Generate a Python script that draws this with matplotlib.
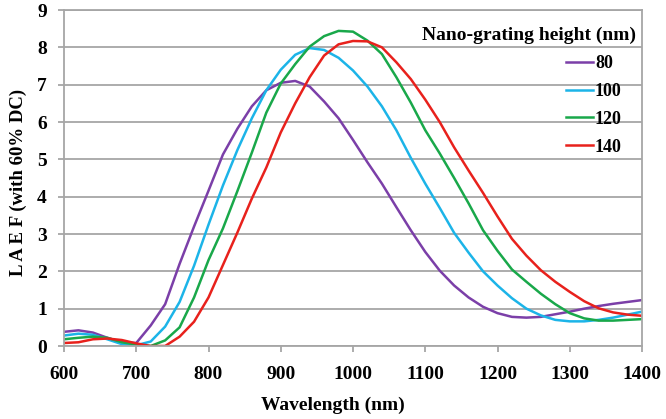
import matplotlib
matplotlib.use("Agg")
import matplotlib.pyplot as plt

# 读图估计的数据 (波长 nm, LAEF)
wavelength = list(range(600, 1401, 20))

laef_80 = [0.38, 0.42, 0.36, 0.22, 0.10, 0.08, 0.55, 1.12, 2.20, 3.20,
           4.16, 5.13, 5.82, 6.42, 6.85, 7.05, 7.10, 6.95, 6.55, 6.10,
           5.52, 4.92, 4.35, 3.72, 3.10, 2.52, 2.02, 1.62, 1.30, 1.05,
           0.88, 0.78, 0.76, 0.78, 0.85, 0.92, 1.00, 1.07, 1.13, 1.18, 1.23]
laef_100 = [0.28, 0.33, 0.30, 0.18, 0.05, 0.02, 0.12, 0.52, 1.18, 2.15,
            3.25, 4.30, 5.25, 6.10, 6.85, 7.40, 7.80, 7.98, 7.93, 7.72,
            7.38, 6.95, 6.42, 5.78, 5.04, 4.35, 3.70, 3.03, 2.50, 2.00,
            1.62, 1.28, 1.00, 0.82, 0.70, 0.66, 0.66, 0.70, 0.76, 0.84, 0.92]
laef_120 = [0.18, 0.22, 0.25, 0.22, 0.10, 0.04, 0.00, 0.15, 0.50, 1.30,
            2.30, 3.15, 4.15, 5.18, 6.25, 7.03, 7.55, 8.02, 8.30, 8.44,
            8.42, 8.18, 7.82, 7.20, 6.52, 5.78, 5.16, 4.50, 3.82, 3.10,
            2.55, 2.05, 1.72, 1.40, 1.12, 0.88, 0.74, 0.68, 0.68, 0.70, 0.72]
laef_140 = [0.08, 0.10, 0.18, 0.20, 0.16, 0.07, 0.00, 0.00, 0.25, 0.65,
            1.30, 2.17, 3.04, 3.95, 4.78, 5.72, 6.50, 7.20, 7.78, 8.08,
            8.17, 8.16, 8.00, 7.60, 7.15, 6.60, 6.00, 5.32, 4.70, 4.10,
            3.47, 2.87, 2.42, 2.03, 1.72, 1.45, 1.20, 1.01, 0.90, 0.84, 0.81]

series = [("80", laef_80, "#7b3fa8"),
          ("100", laef_100, "#1cb4e8"),
          ("120", laef_120, "#19a84a"),
          ("140", laef_140, "#e8211c")]

plt.rcParams["font.family"] = ["Liberation Serif", "DejaVu Serif"]
plt.rcParams["font.weight"] = "bold"

fig = plt.figure(figsize=(6.66, 4.19), dpi=100)
ax = fig.add_axes([64 / 666, 1 - 346 / 419, 578 / 666, 336 / 419])

for name, vals, col in series:
    ax.plot(wavelength, vals, color=col, lw=1.8, label=name)

ax.set_xlim(600, 1400)
ax.set_ylim(0, 9)
ax.set_xticks(range(600, 1401, 100))
ax.set_yticks(range(0, 10))
ax.yaxis.grid(True, color="#a6a6a6", lw=1.3)
ax.set_axisbelow(True)
for s in ax.spines.values():
    s.set_color("#a6a6a6")
    s.set_linewidth(1.3)
ax.tick_params(axis="both", colors="#a6a6a6", length=4.3, width=1.3,
               labelsize=14, labelcolor="black")
ax.tick_params(axis="x", pad=10)
ax.tick_params(axis="y", pad=8)
for lab in ax.get_xticklabels() + ax.get_yticklabels():
    lab.set_fontweight("bold")

fig.text(333 / 666, 1 - 405 / 419, "Wavelength (nm)", ha="center", va="center",
         fontsize=14, fontweight="bold")
fig.text(18 / 666, 1 - 182 / 419, "L A E F (with 60% DC)", ha="center", va="center",
         rotation=90, fontsize=13.5, fontweight="bold")

ax.text(0.99, (346 - 35) / 336, "Nano-grating height (nm)", transform=ax.transAxes,
        ha="right", va="center", fontsize=14, fontweight="bold")
leg = ax.legend(loc="upper left", bbox_to_anchor=((566 - 64) / 578, (346 - 55) / 336),
                frameon=False, borderaxespad=0, borderpad=0, handlelength=1.5,
                handletextpad=0.1, labelspacing=0.6, prop={"size": 13, "weight": "bold"})

fig.savefig("out.png", dpi=100)
